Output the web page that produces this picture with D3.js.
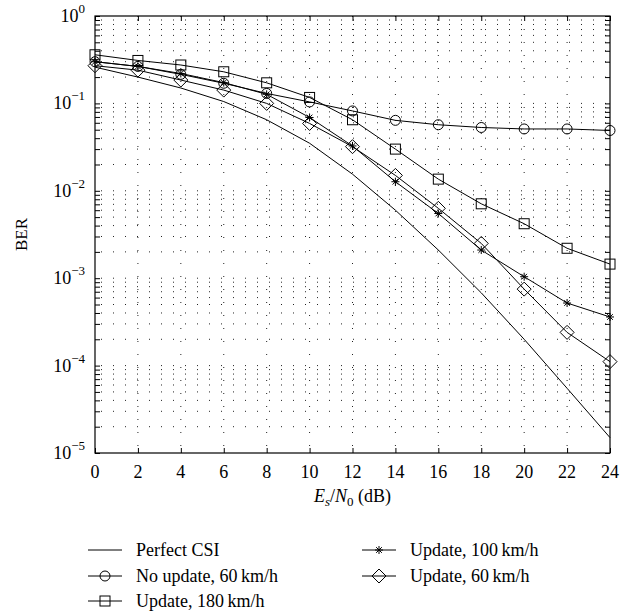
<!DOCTYPE html>
<html>
<head>
<meta charset="utf-8">
<title>BER vs Es/N0</title>
<script src="https://d3js.org/d3.v7.min.js"></script>
<style type="text/css">
  body { margin: 0; background: #fff; }
  svg text { font-family: "Liberation Serif", "DejaVu Serif", serif; fill: #000; }
  .grid line { stroke: #222; stroke-width: 1; }
  .series { fill: none; stroke: #000; stroke-width: 1; }
  .marker { fill: none; stroke: #000; stroke-width: 1; }
</style>
</head>
<body>
<script type="text/javascript">

// Es/N0 in dB
var snrDb = [0, 2, 4, 6, 8, 10, 12, 14, 16, 18, 20, 22, 24];

// BER values
var perfectCsi   = [0.26, 0.2, 0.15, 0.105, 0.065, 0.035, 0.0155, 0.006, 0.0021, 0.00068, 0.0002, 0.000055, 0.000015];
var noUpdate60   = [0.30, 0.265, 0.215, 0.17, 0.13, 0.104, 0.082, 0.064, 0.057, 0.053, 0.051, 0.051, 0.049];
var update180    = [0.36, 0.31, 0.275, 0.23, 0.172, 0.117, 0.065, 0.030, 0.0136, 0.0071, 0.0042, 0.0022, 0.00145];
var update100    = [0.30, 0.265, 0.22, 0.173, 0.127, 0.069, 0.0326, 0.0127, 0.0055, 0.0021, 0.00104, 0.00052, 0.00036];
var update60     = [0.27, 0.24, 0.185, 0.142, 0.1, 0.059, 0.032, 0.015, 0.0063, 0.0025, 0.00075, 0.00024, 0.000111];

var seriesNames = ["Perfect CSI", "No update, 60\u2009km/h", "Update, 180\u2009km/h", "Update, 100\u2009km/h", "Update, 60\u2009km/h"];
var seriesMarks = ["none", "circle", "square", "star", "diamond"];
var seriesData  = [perfectCsi, noUpdate60, update180, update100, update60];

var xTicks = [0, 2, 4, 6, 8, 10, 12, 14, 16, 18, 20, 22, 24];
var yExps  = [0, -1, -2, -3, -4, -5];

var width = 638, height = 616;
var margin = {left: 95, right: 28, top: 16, bottom: 163};

var svg = d3.select("body").append("svg")
  .attr("width", width)
  .attr("height", height);

var x = d3.scaleLinear().domain([0, 24]).range([margin.left, width - margin.right]);
var y = d3.scaleLog().domain([1e-5, 1]).range([height - margin.bottom, margin.top]);

// all log ticks (majors + 2..9 minors)
var yAll = [];
yExps.forEach(function(e) {
  if (e === 0) { yAll.push(1); return; }
  for (var m = 1; m < 10; m++) yAll.push(m * Math.pow(10, e));
});

// dotted grid
var grid = svg.append("g").attr("class", "grid");
grid.selectAll("line.h")
  .data(yAll.filter(function(v) { return v < 1 && v > 1e-5; }))
  .enter().append("line")
  .attr("x1", x(0) + 6).attr("x2", x(24))
  .attr("y1", function(d) { return y(d); })
  .attr("y2", function(d) { return y(d); })
  .attr("stroke-dasharray", "1,11");
grid.selectAll("line.v")
  .data(xTicks.slice(1, -1))
  .enter().append("line")
  .attr("x1", function(d) { return x(d); })
  .attr("x2", function(d) { return x(d); })
  .attr("y1", y(1)).attr("y2", y(1e-5))
  .attr("stroke-dasharray", "1,12");

// axes with inward ticks
var tickLen = 5;
svg.append("g")
  .attr("transform", "translate(0," + y(1e-5) + ")")
  .call(d3.axisBottom(x).tickValues(xTicks).tickSizeInner(-tickLen).tickSizeOuter(0).tickFormat(""))
  .call(function(g) { g.select(".domain").remove(); });
svg.append("g")
  .attr("transform", "translate(0," + y(1) + ")")
  .call(d3.axisTop(x).tickValues(xTicks).tickSizeInner(-tickLen).tickSizeOuter(0).tickFormat(""))
  .call(function(g) { g.select(".domain").remove(); });
svg.append("g")
  .attr("transform", "translate(" + x(0) + ",0)")
  .call(d3.axisLeft(y).tickValues(yAll).tickSizeInner(-tickLen).tickSizeOuter(0).tickFormat(""))
  .call(function(g) { g.select(".domain").remove(); });
svg.append("g")
  .attr("transform", "translate(" + x(24) + ",0)")
  .call(d3.axisRight(y).tickValues(yAll).tickSizeInner(-tickLen).tickSizeOuter(0).tickFormat(""))
  .call(function(g) { g.select(".domain").remove(); });

svg.append("rect")
  .attr("x", x(0)).attr("y", y(1))
  .attr("width", x(24) - x(0)).attr("height", y(1e-5) - y(1))
  .attr("fill", "none").attr("stroke", "#000").attr("stroke-width", 1.2);

// tick labels
svg.selectAll("text.xt")
  .data(xTicks)
  .enter().append("text")
  .attr("class", "xt")
  .attr("x", function(d) { return x(d); })
  .attr("y", y(1e-5) + 25)
  .attr("text-anchor", "middle")
  .attr("font-size", 18)
  .text(function(d) { return d; });

var yt = svg.selectAll("text.yt")
  .data(yExps)
  .enter().append("text")
  .attr("class", "yt")
  .attr("x", x(0) - 10)
  .attr("y", function(d) { return y(Math.pow(10, d)) + 6; })
  .attr("text-anchor", "end")
  .attr("font-size", 18);
yt.append("tspan").text("10");
yt.append("tspan")
  .attr("dy", -9)
  .attr("font-size", 13)
  .text(function(d) { return d === 0 ? "0" : "\u2212" + (-d); });

// axis titles
svg.append("text")
  .attr("transform", "translate(27," + (y(1) + y(1e-5)) / 2 + ") rotate(-90)")
  .attr("text-anchor", "middle")
  .attr("font-size", 17)
  .text("BER");

var xl = svg.append("text")
  .attr("x", (x(0) + x(24)) / 2)
  .attr("y", 502)
  .attr("text-anchor", "middle")
  .attr("font-size", 18);
xl.append("tspan").attr("font-style", "italic").text("E");
xl.append("tspan").attr("font-style", "italic").attr("font-size", 13).attr("dy", 4).text("s");
xl.append("tspan").attr("dy", -4).text("/");
xl.append("tspan").attr("font-style", "italic").text("N");
xl.append("tspan").attr("font-size", 13).attr("dy", 4).text("0");
xl.append("tspan").attr("dy", -4).text(" (dB)");

// markers
function drawMarker(g, type, cx, cy) {
  if (type === "circle") {
    g.append("circle").attr("class", "marker").attr("cx", cx).attr("cy", cy).attr("r", 5);
  } else if (type === "square") {
    g.append("rect").attr("class", "marker").attr("x", cx - 5).attr("y", cy - 5).attr("width", 10).attr("height", 10);
  } else if (type === "diamond") {
    g.append("path").attr("class", "marker")
      .attr("d", "M" + cx + "," + (cy - 7) + "L" + (cx + 7) + "," + cy + "L" + cx + "," + (cy + 7) + "L" + (cx - 7) + "," + cy + "Z");
  } else if (type === "star") {
    var s = 4, p = "";
    [0, 45, 90, 135].forEach(function(a) {
      var r = a * Math.PI / 180, dx = s * Math.cos(r), dy = s * Math.sin(r);
      p += "M" + (cx - dx) + "," + (cy - dy) + "L" + (cx + dx) + "," + (cy + dy);
    });
    g.append("path").attr("class", "marker").attr("stroke-width", 1.6).attr("d", p);
  }
}

var line = d3.line()
  .x(function(d, i) { return x(snrDb[i]); })
  .y(function(d) { return y(d); });

seriesData.forEach(function(vals, k) {
  var g = svg.append("g");
  g.append("path").attr("class", "series").attr("d", line(vals));
  if (seriesMarks[k] !== "none") {
    vals.forEach(function(v, i) { drawMarker(g, seriesMarks[k], x(snrDb[i]), y(v)); });
  }
});

// legend
var legendPos = [
  {lx: 88, ly: 550}, {lx: 88, ly: 576}, {lx: 88, ly: 601},
  {lx: 362, ly: 550}, {lx: 362, ly: 576}
];
seriesNames.forEach(function(name, k) {
  var p = legendPos[k];
  var g = svg.append("g");
  g.append("line").attr("x1", p.lx).attr("x2", p.lx + 34)
    .attr("y1", p.ly).attr("y2", p.ly).attr("stroke", "#000");
  drawMarker(g, seriesMarks[k], p.lx + 17, p.ly);
  g.append("text")
    .attr("x", p.lx + 48)
    .attr("y", p.ly + 6)
    .attr("font-size", 18)
    .text(name);
});

</script>
</body>
</html>
